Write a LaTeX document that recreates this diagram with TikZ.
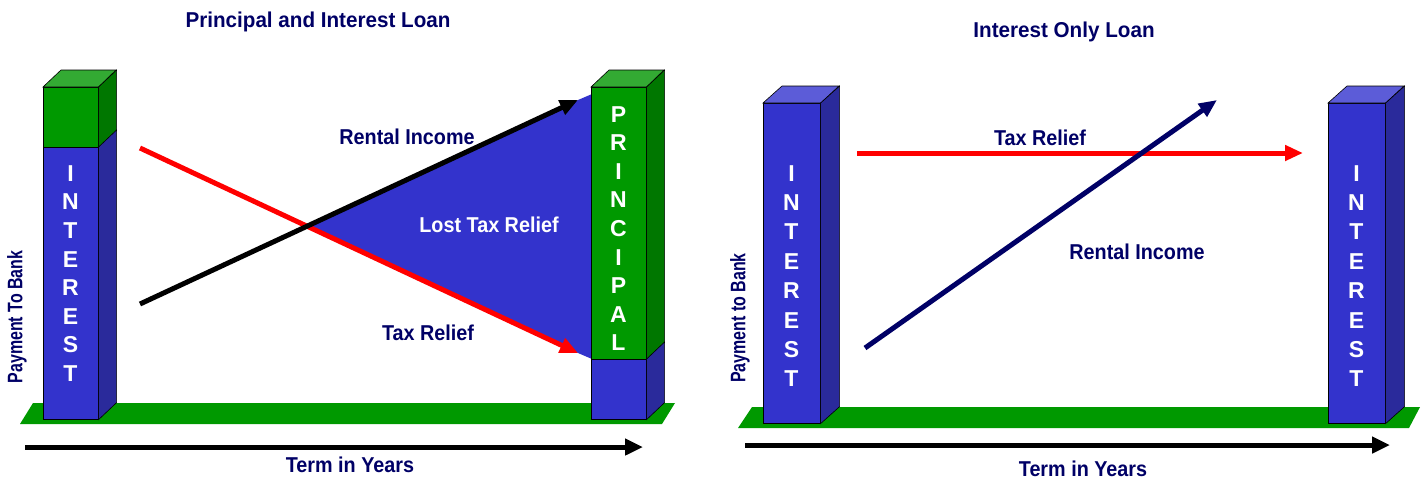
\documentclass[tikz,border=0pt]{standalone}
\usepackage{fontspec}
\setmainfont{Liberation Sans}
\newfontfamily\narrowfont{Liberation Sans}[FakeStretch=0.92]
\newfontfamily\titlefont{Liberation Sans}[FakeStretch=0.96]
\newfontfamily\tallfont{Liberation Sans}[FakeStretch=0.76]
\usetikzlibrary{arrows.meta, positioning}
\definecolor{faceblue}{RGB}{51,51,204}
\definecolor{sideblue}{RGB}{42,42,155}
\definecolor{topblue}{RGB}{92,92,216}
\definecolor{facegreen}{RGB}{0,153,0}
\definecolor{sidegreen}{RGB}{0,119,0}
\definecolor{topgreen}{RGB}{51,170,51}
\definecolor{navy}{RGB}{0,0,102}
\definecolor{loanred}{RGB}{255,0,0}

\begin{document}
\begin{tikzpicture}[x=1pt, y=-1pt,
  face/.style={rectangle, draw=black, line width=0.6pt, inner sep=0pt,
               anchor=north west, minimum width=55pt},
  side/.style={draw=black, line width=0.6pt},
  letters/.style={align=center, text=white, inner sep=0pt,
                  font=\fontsize{23}{28.6}\selectfont\bfseries},
  lbl/.style={text=navy, inner sep=0pt, font=\narrowfont\fontsize{21.5}{25}\selectfont\bfseries},
  title/.style={text=navy, inner sep=0pt, font=\titlefont\fontsize{21.5}{25}\selectfont\bfseries},
  axis/.style={rotate=90, text=navy, inner sep=0pt, font=\tallfont\fontsize{21}{25}\selectfont\bfseries},
  arrow/.style={-{Triangle[length=18pt,width=15pt]}, line width=5pt},
  termarrow/.style={-{Triangle[length=18pt,width=16pt]}, line width=5pt, black}
]
\useasboundingbox (0,0) rectangle (1421,480);

% ---------------- Principal and Interest Loan ----------------
\node[title] (ttl1) at (318,22) {Principal and Interest Loan};

% ground
\fill[facegreen] (20,424) -- (33,403) -- (675,403) -- (662,424) -- cycle;

% lost tax relief wedge
\coordinate (rs) at (140,148);
\coordinate (re) at (578,353);
\coordinate (bs) at (140,304);
\coordinate (be) at (578,100);
\coordinate (cross) at (intersection of rs--re and bs--be);
\fill[faceblue] (cross) -- (be) -- (592,94) -- (592,359) -- (re) -- cycle;
\draw[arrow, loanred] (rs) -- (re);
\draw[arrow, black] (bs) -- (be);

% interest column
\node[face, fill=facegreen, minimum height=60pt] (lcap) at (43,87) {};
\node[face, fill=faceblue, minimum height=272pt] (lbody) at (43,147) {};
\filldraw[side, fill=topgreen] (lcap.north west) -- ++(18,-17) -- ++(55,0) -- (lcap.north east) -- cycle;
\filldraw[side, fill=sidegreen] (lcap.north east) -- ++(18,-17) -- ([shift={(18,-17)}]lcap.south east) -- (lcap.south east) -- cycle;
\filldraw[side, fill=sideblue] (lbody.north east) -- ++(18,-17) -- ([shift={(18,-17)}]lbody.south east) -- (lbody.south east) -- cycle;
\node[letters] (lint) at (70.5,273.5) {I\\N\\T\\E\\R\\E\\S\\T};

% principal column
\node[face, fill=facegreen, minimum height=272pt] (pbody) at (591,87) {};
\node[face, fill=faceblue, minimum height=60pt] (pfoot) at (591,359) {};
\filldraw[side, fill=topgreen] (pbody.north west) -- ++(18,-17) -- ++(55,0) -- (pbody.north east) -- cycle;
\filldraw[side, fill=sidegreen] (pbody.north east) -- ++(18,-17) -- ([shift={(18,-17)}]pbody.south east) -- (pbody.south east) -- cycle;
\filldraw[side, fill=sideblue] (pfoot.north east) -- ++(18,-17) -- ([shift={(18,-17)}]pfoot.south east) -- (pfoot.south east) -- cycle;
\node[letters] (pint) at (618.5,228.5) {P\\R\\I\\N\\C\\I\\P\\A\\L};

% labels
\node[lbl] (rent1) at (407,137) {Rental Income};
\node[lbl, text=white] (lost) at (489,225) {Lost Tax Relief};
\node[lbl] (tax1) at (428,333) {Tax Relief};
\node[axis] (pay1) at (17,317) {Payment To Bank};

% term axis
\coordinate (t1s) at (25,447);
\coordinate (t1e) at (643,447);
\draw[termarrow] (t1s) -- (t1e);
\node[lbl] (term1) at (350,465) {Term in Years};

% ---------------- Interest Only Loan ----------------
\node[title] (ttl2) at (1064,32) {Interest Only Loan};

% ground
\fill[facegreen] (738,428) -- (752,407) -- (1420,407) -- (1409,428) -- cycle;

% columns
\node[face, fill=faceblue, minimum width=57pt, minimum height=320pt] (ibody) at (763,103) {};
\filldraw[side, fill=topblue] (ibody.north west) -- ++(19,-17) -- ++(57,0) -- (ibody.north east) -- cycle;
\filldraw[side, fill=sideblue] (ibody.north east) -- ++(19,-17) -- ([shift={(19,-17)}]ibody.south east) -- (ibody.south east) -- cycle;
\node[letters, font=\fontsize{23}{29.4}\selectfont\bfseries] (iint) at (791.5,276) {I\\N\\T\\E\\R\\E\\S\\T};

\node[face, fill=faceblue, minimum width=57pt, minimum height=320pt] (jbody) at (1328,103) {};
\filldraw[side, fill=topblue] (jbody.north west) -- ++(19,-17) -- ++(57,0) -- (jbody.north east) -- cycle;
\filldraw[side, fill=sideblue] (jbody.north east) -- ++(19,-17) -- ([shift={(19,-17)}]jbody.south east) -- (jbody.south east) -- cycle;
\node[letters, font=\fontsize{23}{29.4}\selectfont\bfseries] (jint) at (1356.5,276) {I\\N\\T\\E\\R\\E\\S\\T};

% arrows
\coordinate (xs) at (857,153);
\coordinate (xe) at (1303,153);
\coordinate (ys) at (865,348);
\coordinate (ye) at (1217,100);
\draw[arrow, loanred] (xs) -- (xe);
\draw[arrow, navy] (ys) -- (ye);

% labels
\node[lbl] (tax2) at (1040,138) {Tax Relief};
\node[lbl] (rent2) at (1137,252) {Rental Income};
\node[axis] (pay2) at (740,318) {Payment to Bank};

% term axis
\coordinate (t2s) at (745,445);
\coordinate (t2e) at (1390,445);
\draw[termarrow] (t2s) -- (t2e);
\node[lbl] (term2) at (1083,469) {Term in Years};
\end{tikzpicture}
\end{document}
